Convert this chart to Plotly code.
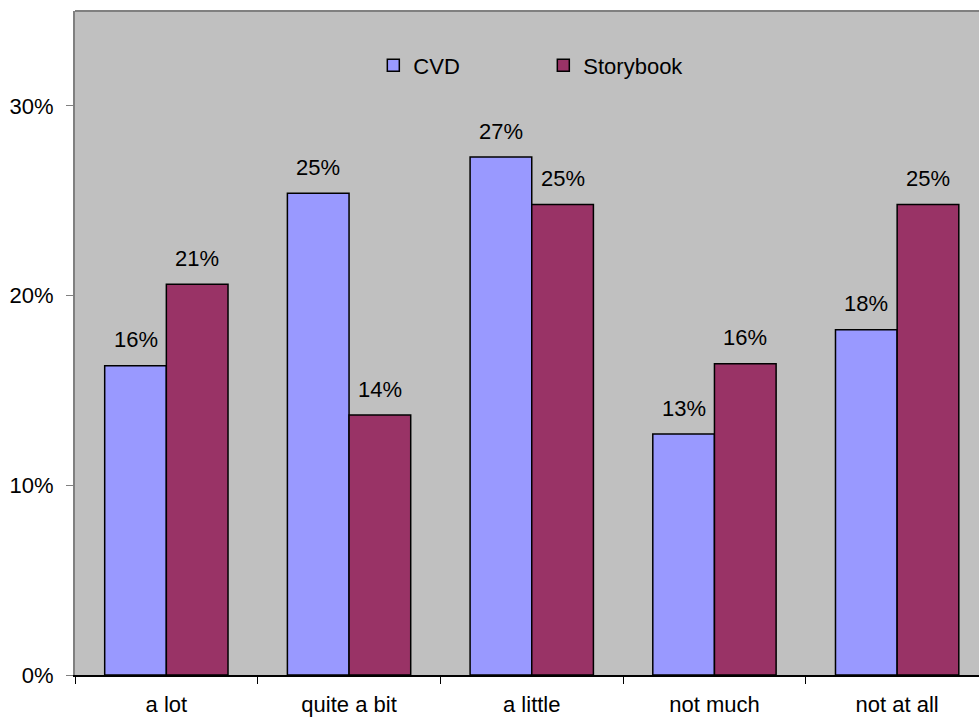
import plotly.graph_objects as go

categories = ["a lot", "quite a bit", "a little", "not much", "not at all"]
cvd = [0.163, 0.254, 0.273, 0.127, 0.182]
storybook = [0.206, 0.137, 0.248, 0.164, 0.248]
series_names = ["CVD", "Storybook"]
series_colors = ["#9999FF", "#993366"]

FONT = "Liberation Sans, Arial, sans-serif"
FS = 22
BARGAP = 0.325

fig = go.Figure()
for name, vals, col in zip(series_names, [cvd, storybook], series_colors):
    fig.add_trace(go.Bar(
        x=categories, y=vals, name=name,
        marker=dict(color=col, line=dict(color="#000000", width=1.5)),
    ))

# value labels above each bar
bar_w = (1 - BARGAP) / 2
for j, vals in enumerate([cvd, storybook]):
    off = (j - 0.5) * bar_w
    for i, v in enumerate(vals):
        fig.add_annotation(
            x=i + off, y=v, xref="x", yref="y",
            text=f"{round(v * 100):d}%", showarrow=False,
            yanchor="middle", yshift=26,
            font=dict(family=FONT, size=FS, color="#000000"),
        )

fig.update_layout(
    width=979, height=719,
    margin=dict(l=75, r=0, t=11, b=44),
    paper_bgcolor="#FFFFFF",
    plot_bgcolor="#C0C0C0",
    barmode="group", bargap=BARGAP, bargroupgap=0,
    font=dict(family=FONT, size=FS, color="#000000"),
    legend=dict(
        orientation="h", x=0.33, xanchor="left", y=0.918, yanchor="middle",
        bgcolor="rgba(0,0,0,0)", borderwidth=0,
        font=dict(family=FONT, size=FS), entrywidth=125,
    ),
    showlegend=True,
)
# the plot area runs slightly past the right edge, so the last category is cut
fig.update_xaxes(
    type="category", range=[-0.5, 4.448], tickson="boundaries",
    ticks="outside", ticklen=7,
    tickcolor="#000000", showline=True, linecolor="#000000", linewidth=1.5,
    showgrid=False, ticklabelstandoff=9,
)
fig.update_yaxes(
    range=[0, 0.35], dtick=0.1, tickformat=".0%", ticks="outside", ticklen=7,
    tickcolor="#808080", showline=True, linecolor="#808080", linewidth=2,
    showgrid=False, zeroline=False, ticklabelstandoff=8,
)
# plot-area top border
fig.add_shape(type="line", xref="paper", yref="paper", x0=0, x1=1, y0=1, y1=1,
              line=dict(color="#808080", width=2))

fig.write_html("out.html")
